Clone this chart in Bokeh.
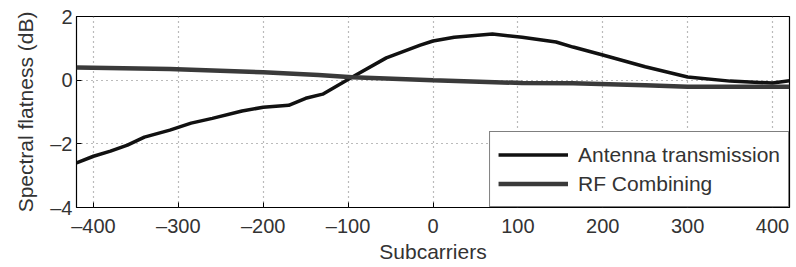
from bokeh.plotting import figure
from bokeh.models import Range1d, FixedTicker, Legend, LegendItem
from bokeh.embed import file_html
from bokeh.resources import INLINE

# Data
x_ant = [-420, -400, -380, -360, -340, -310, -285, -260, -225, -200, -170, -150, -130, -95,
         -55, -15, 0, 25, 70, 105, 145, 165, 200, 250, 300, 350, 400, 420]
y_ant = [-2.6, -2.39, -2.23, -2.04, -1.79, -1.57, -1.35, -1.2, -0.97, -0.85, -0.79, -0.57, -0.44, 0.1,
         0.7, 1.1, 1.23, 1.35, 1.45, 1.35, 1.2, 1.04, 0.79, 0.42, 0.1, -0.03, -0.09, -0.02]
x_rf = [-420, -310, -200, -135, -95, 0, 105, 165, 250, 300, 400, 420]
y_rf = [0.4, 0.35, 0.25, 0.16, 0.09, 0.0, -0.09, -0.1, -0.16, -0.21, -0.21, -0.21]
x_ticks = [-400, -300, -200, -100, 0, 100, 200, 300, 400]
y_ticks = [-4, -2, 0, 2]
series_names = ["Antenna transmission", "RF Combining"]

FONT = "Liberation Sans"
TXT = "#333333"

p = figure(width=796, height=266, output_backend="svg", toolbar_location=None,
           x_range=Range1d(-420, 420), y_range=Range1d(-4, 2),
           min_border_left=76, min_border_right=7, min_border_top=16, min_border_bottom=59)
p.outline_line_color = "black"
p.outline_line_width = 1.2

r1 = p.line(x_ant, y_ant, line_color="#111111", line_width=3.5)
r2 = p.line(x_rf, y_rf, line_color="#3a3a3a", line_width=4.5)

for ax in (p.xaxis[0], p.yaxis[0]):
    ax.major_label_text_font = FONT
    ax.major_label_text_font_size = "20px"
    ax.major_label_text_color = TXT
    ax.axis_label_text_font = FONT
    ax.axis_label_text_font_size = "21px"
    ax.axis_label_text_font_style = "normal"
    ax.axis_label_text_color = TXT
    ax.major_tick_in = 5
    ax.major_tick_out = 0
    ax.minor_tick_in = 0
    ax.minor_tick_out = 0
    ax.axis_line_color = None
    ax.major_tick_line_color = "black"

p.xaxis.ticker = FixedTicker(ticks=x_ticks)
p.yaxis.ticker = FixedTicker(ticks=y_ticks)
p.xaxis.major_label_overrides = {t: (str(t).replace("-", "\u2013")) for t in x_ticks}
p.yaxis.major_label_overrides = {t: (str(t).replace("-", "\u2013")) for t in y_ticks}
p.xaxis.axis_label = "Subcarriers"
p.yaxis.axis_label = "Spectral flatness (dB)"
p.xaxis.major_label_standoff = 7
p.xaxis.axis_label_standoff = 0
p.yaxis.major_label_standoff = 4
p.yaxis.axis_label_standoff = 10

p.xgrid.grid_line_color = "#777777"
p.ygrid.grid_line_color = "#777777"
p.xgrid.grid_line_dash = "1 4"
p.ygrid.grid_line_dash = "1 4"
p.xgrid.grid_line_width = 1.2
p.ygrid.grid_line_width = 1.2

legend = Legend(items=[LegendItem(label=series_names[0], renderers=[r1]),
                       LegendItem(label=series_names[1], renderers=[r2])],
                location="bottom_right")
legend.margin = 0
legend.padding = 8
legend.spacing = 0
legend.glyph_width = 70
legend.glyph_height = 29
legend.label_height = 29
legend.label_standoff = 10
legend.label_text_font = FONT
legend.label_text_font_size = "21px"
legend.label_text_color = TXT
legend.border_line_color = "black"
legend.border_line_width = 1.2
legend.background_fill_alpha = 1
p.add_layout(legend)

open("out.html", "w").write(file_html(p, INLINE))
